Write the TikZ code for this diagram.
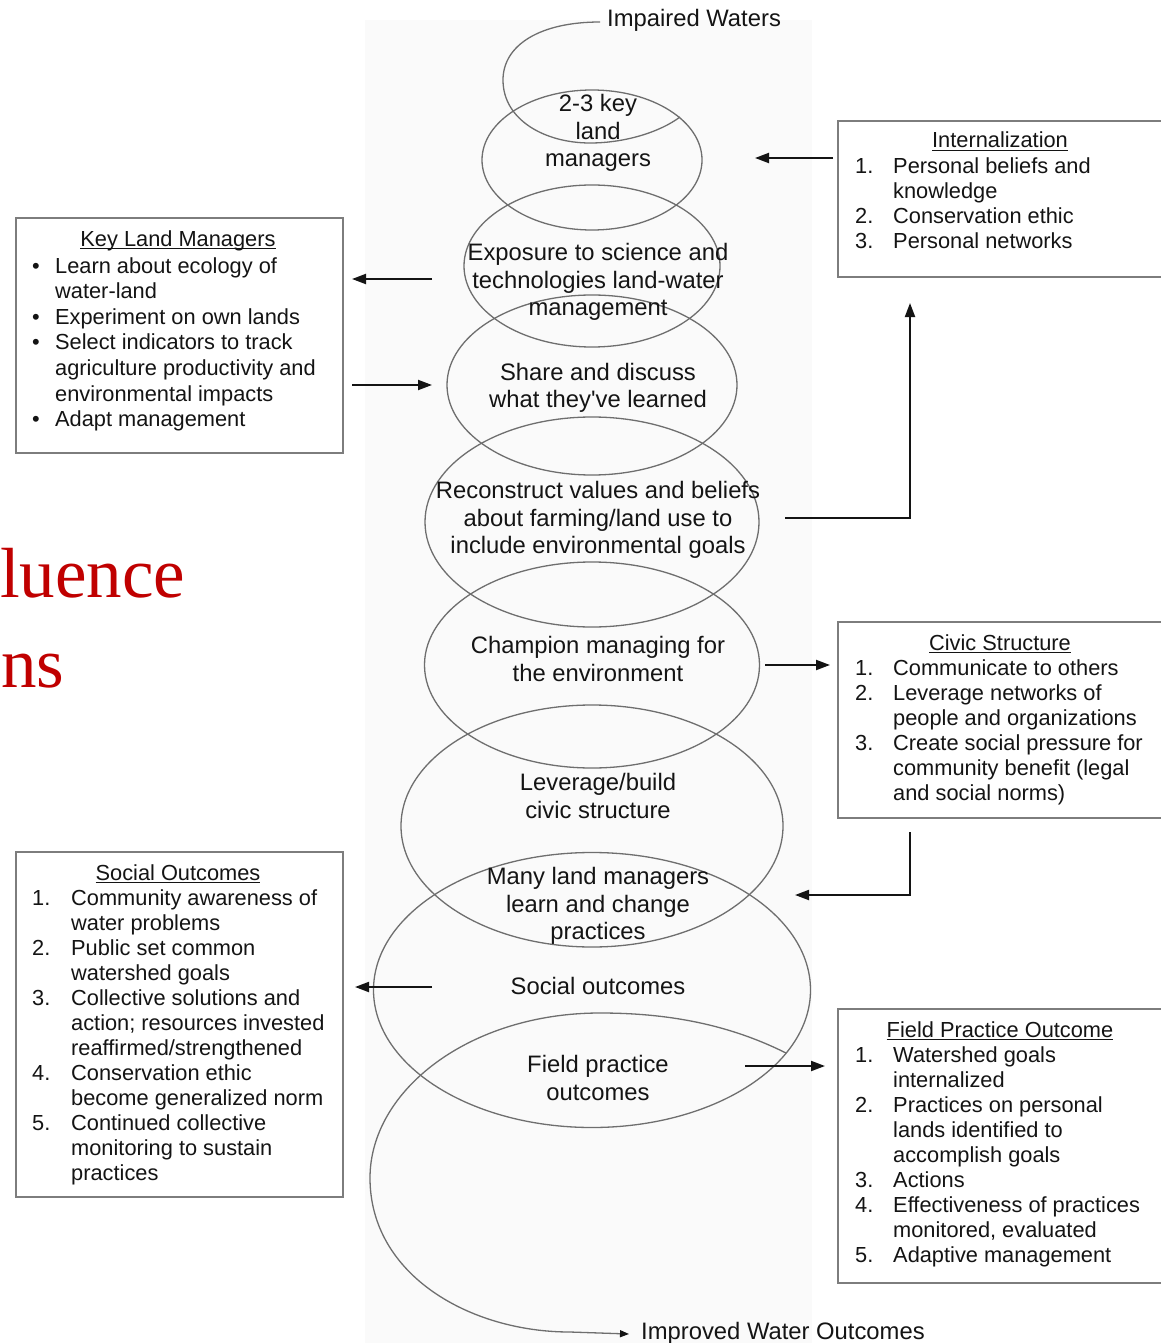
\documentclass[tikz,border=0pt]{standalone}
\usepackage{fontspec}
\setmainfont{Liberation Sans}
\newfontfamily\headserif{Liberation Serif}
\usetikzlibrary{shapes.geometric,arrows.meta}

\definecolor{ringgray}{RGB}{110,110,110}
\definecolor{boxgray}{RGB}{125,125,125}
\definecolor{headred}{RGB}{192,0,0}
\definecolor{paneltint}{RGB}{250,250,250}
\definecolor{inkblack}{RGB}{20,20,20}

% underline that sits just under the baseline
\newcommand\ultext[1]{\setbox0\hbox{#1}\rlap{\rule[-3pt]{\wd0}{1.1pt}}\box0}
% fixed-width list marker
\newcommand\itm[2]{\makebox[#1][l]{#2}}

\tikzset{
  ring/.style={draw=ringgray, line width=1.3pt, ellipse, inner sep=0pt},
  panel/.style={draw=boxgray, line width=1.6pt, rectangle, inner sep=0pt, anchor=north west},
  ringtext/.style={align=center, inner sep=0pt, text=inkblack, font=\fontsize{23.8}{27.5}\selectfont},
  listtext/.style={inner sep=0pt, anchor=base west, text=inkblack, font=\fontsize{21.8}{25}\selectfont},
  heading/.style={inner sep=0pt, anchor=base, text=inkblack, font=\fontsize{21.8}{25}\selectfont},
  flow/.style={line width=2pt, draw=inkblack, -{Triangle[length=14pt,width=10pt]}},
  spiral/.style={draw=ringgray, line width=1.3pt},
}

\begin{document}
\begin{tikzpicture}[x=1pt,y=-1pt]
\clip (0,0) rectangle (1161,1343);
\fill[white] (0,0) rectangle (1161,1343);
\fill[paneltint] (365,20) rectangle (812,1343);

% large red heading fragments on the left
\node[inner sep=0pt, anchor=base west, text=headred, font=\headserif\fontsize{71}{80}\selectfont] (redA) at (0,597) {luence};
\node[inner sep=0pt, anchor=base west, text=headred, font=\headserif\fontsize{71}{80}\selectfont] (redB) at (1,687) {ns};

% stacked stage ellipses
\node[ring, minimum width=220pt, minimum height=140pt] (e1) at (592,160) {};
\node[ring, minimum width=256pt, minimum height=162pt] (e2) at (592,266) {};
\node[ring, minimum width=290pt, minimum height=180pt] (e3) at (592,385) {};
\node[ring, minimum width=334pt, minimum height=210pt] (e4) at (592,522) {};
\node[ring, minimum width=335pt, minimum height=206pt] (e5) at (592,665) {};
\node[ring, minimum width=382pt, minimum height=242pt] (e6) at (592,826) {};
\node[ring, minimum width=437pt, minimum height=275pt] (e7) at (592,990) {};

% spiral entry at the top
\node[ringtext, anchor=west] (iw) at (607,20) {Impaired Waters};
\coordinate (topend) at (680,117);
\draw[spiral] ([xshift=-7pt,yshift=-2pt]iw.west) .. controls (540,22) and (503,45) .. (503,80)
  .. controls (503,120) and (545,143) .. (590,143)
  .. controls (625,143) and (660,132) .. (topend);

% spiral exit at the bottom
\node[ringtext, anchor=west] (iwo) at (641,1333) {Improved Water Outcomes};
\coordinate (botstart) at (786,1053);
\draw[spiral, -{Triangle[length=9pt,width=7pt,color=inkblack]}] (botstart)
  .. controls (730,1025) and (670,1013) .. (600,1013)
  .. controls (470,1013) and (370,1090) .. (370,1178)
  .. controls (370,1275) and (470,1332) .. (570,1332)
  -- ([xshift=-12pt,yshift=-1pt]iwo.west);

% stage labels
\node[ringtext] (t1) at (598,133) {2-3 key\\land\\managers};
\node[ringtext] (t2) at (598,282) {Exposure to science and\\technologies land-water\\management};
\node[ringtext] (t3) at (598,388) {Share and discuss\\what they\textquotesingle ve learned};
\node[ringtext] (t4) at (598,520) {Reconstruct values and beliefs\\about farming/land use to\\include environmental goals};
\node[ringtext] (t5) at (598,659) {Champion managing for\\the environment};
\node[ringtext] (t6) at (598,796) {Leverage/build\\civic structure};
\node[ringtext] (t7) at (598,906) {Many land managers\\learn and change\\practices};
\node[ringtext] (t8) at (598,986) {Social outcomes};
\node[ringtext] (t9) at (598,1078) {Field practice\\outcomes};

% side boxes
\node[panel, minimum width=340pt, minimum height=156pt] (intl) at (837,120) {};
\node[panel, minimum width=340pt, minimum height=196pt] (civic) at (837,621) {};
\node[panel, minimum width=340pt, minimum height=274pt] (field) at (837,1008) {};
\node[panel, minimum width=327pt, minimum height=235pt] (klm) at (15,217) {};
\node[panel, minimum width=327pt, minimum height=345pt] (soc) at (15,851) {};

\node[heading] (intlh) at (1000,148) {\ultext{Internalization}};
\node[listtext] (intll) at (855,174) {\begin{tabular}[t]{@{}l@{}}
\itm{38pt}{1.}Personal beliefs and\\
\itm{38pt}{}knowledge\\
\itm{38pt}{2.}Conservation ethic\\
\itm{38pt}{3.}Personal networks
\end{tabular}};

\node[heading] (civich) at (1000,650) {\ultext{Civic Structure}};
\node[listtext] (civicl) at (855,675) {\begin{tabular}[t]{@{}l@{}}
\itm{38pt}{1.}Communicate to others\\
\itm{38pt}{2.}Leverage networks of\\
\itm{38pt}{}people and organizations\\
\itm{38pt}{3.}Create social pressure for\\
\itm{38pt}{}community benefit (legal\\
\itm{38pt}{}and social norms)
\end{tabular}};

\node[heading] (fieldh) at (1000,1037) {\ultext{Field Practice Outcome}};
\node[listtext] (fieldl) at (855,1062) {\begin{tabular}[t]{@{}l@{}}
\itm{38pt}{1.}Watershed goals\\
\itm{38pt}{}internalized\\
\itm{38pt}{2.}Practices on personal\\
\itm{38pt}{}lands identified to\\
\itm{38pt}{}accomplish goals\\
\itm{38pt}{3.}Actions\\
\itm{38pt}{4.}Effectiveness of practices\\
\itm{38pt}{}monitored, evaluated\\
\itm{38pt}{5.}Adaptive management
\end{tabular}};

\node[heading] (klmh) at (178,246) {\ultext{Key Land Managers}};
\node[listtext, font=\fontsize{21.8}{25.6}\selectfont] (klml) at (32,273) {\begin{tabular}[t]{@{}l@{}}
\itm{23pt}{\textbullet}Learn about ecology of\\
\itm{23pt}{}water-land\\
\itm{23pt}{\textbullet}Experiment on own lands\\
\itm{23pt}{\textbullet}Select indicators to track\\
\itm{23pt}{}agriculture productivity and\\
\itm{23pt}{}environmental impacts\\
\itm{23pt}{\textbullet}Adapt management
\end{tabular}};

\node[heading] (soch) at (178,880) {\ultext{Social Outcomes}};
\node[listtext] (socl) at (32,905) {\begin{tabular}[t]{@{}l@{}}
\itm{39pt}{1.}Community awareness of\\
\itm{39pt}{}water problems\\
\itm{39pt}{2.}Public set common\\
\itm{39pt}{}watershed goals\\
\itm{39pt}{3.}Collective solutions and\\
\itm{39pt}{}action; resources invested\\
\itm{39pt}{}reaffirmed/strengthened\\
\itm{39pt}{4.}Conservation ethic\\
\itm{39pt}{}become generalized norm\\
\itm{39pt}{5.}Continued collective\\
\itm{39pt}{}monitoring to sustain\\
\itm{39pt}{}practices
\end{tabular}};

% arrow end points
\coordinate (a1s) at (833,158);  \coordinate (a1e) at (755,158);
\coordinate (a2s) at (432,279);  \coordinate (a2e) at (352,279);
\coordinate (a3s) at (352,385);  \coordinate (a3e) at (432,385);
\coordinate (a4s) at (785,518);  \coordinate (a4c) at (910,518);  \coordinate (a4e) at (910,303);
\coordinate (a5s) at (765,665);  \coordinate (a5e) at (830,665);
\coordinate (a6s) at (910,832);  \coordinate (a6c) at (910,895);  \coordinate (a6e) at (795,895);
\coordinate (a7s) at (432,987);  \coordinate (a7e) at (355,987);
\coordinate (a8s) at (745,1066); \coordinate (a8e) at (825,1066);

\draw[flow] (a1s) -- (a1e);
\draw[flow] (a2s) -- (a2e);
\draw[flow] (a3s) -- (a3e);
\draw[flow] (a4s) -- (a4c) -- (a4e);
\draw[flow] (a5s) -- (a5e);
\draw[flow] (a6s) -- (a6c) -- (a6e);
\draw[flow] (a7s) -- (a7e);
\draw[flow] (a8s) -- (a8e);
\end{tikzpicture}
\end{document}
